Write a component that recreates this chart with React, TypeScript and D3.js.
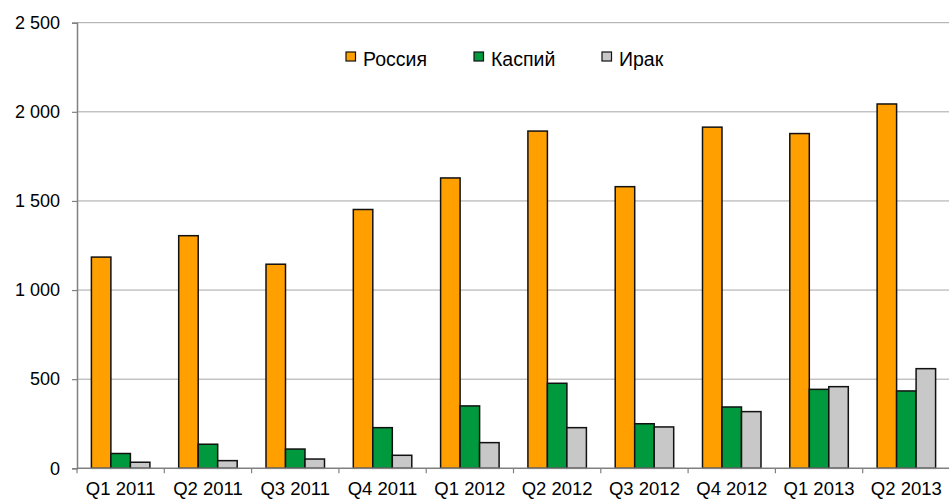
import React, { useEffect, useRef } from "react";
import * as d3 from "d3";

const quarters = ["Q1 2011", "Q2 2011", "Q3 2011", "Q4 2011", "Q1 2012", "Q2 2012", "Q3 2012", "Q4 2012", "Q1 2013", "Q2 2013"];
const seriesNames = ["Россия", "Каспий", "Ирак"];
const russia = [1185, 1305, 1145, 1452, 1629, 1892, 1580, 1914, 1878, 2044];
const caspian = [83, 135, 108, 228, 350, 477, 250, 344, 443, 434];
const iraq = [34, 43, 52, 73, 144, 228, 232, 318, 458, 559];
const yTicks = [0, 500, 1000, 1500, 2000, 2500];
const colors = ["#FFA000", "#00993D", "#C8C8C8"];

const App = () => {
    const svgRef = useRef<SVGSVGElement>(null);

    useEffect(() => {
        const width = 949;
        const height = 500;
        const margin = { top: 22.7, right: -1, bottom: 31.7, left: 77 };

        const svg = d3.select(svgRef.current).attr("width", width).attr("height", height);
        svg.selectAll("*").remove();

        const values = [russia, caspian, iraq];
        const rows = quarters.map((q, i) => ({ q, vals: values.map((s) => s[i]) }));

        const x0 = d3
            .scaleBand()
            .domain(quarters)
            .range([margin.left, width - margin.right])
            .paddingInner(0.33)
            .paddingOuter(0.165);
        const x1 = d3.scaleBand().domain(seriesNames).range([0, x0.bandwidth()]);
        const y = d3
            .scaleLinear()
            .domain([0, 2500])
            .range([height - margin.bottom, margin.top]);

        const fmt = (v: number) => d3.format(",")(v).replace(/,/g, " ");
        const font = "'Liberation Sans', Arial, sans-serif";

        // gridlines
        svg.append("g")
            .selectAll("line")
            .data(yTicks.filter((t) => t > 0))
            .enter()
            .append("line")
            .attr("x1", margin.left)
            .attr("x2", width)
            .attr("y1", (d) => y(d))
            .attr("y2", (d) => y(d))
            .attr("stroke", "#a6a6a6")
            .attr("stroke-width", 1);

        // y axis
        const yAxis = svg
            .append("g")
            .attr("transform", `translate(${margin.left},0)`)
            .call(d3.axisLeft(y).tickValues(yTicks).tickSize(5).tickPadding(12).tickFormat((d) => fmt(d as number)));
        yAxis.select(".domain").attr("stroke", "#808080").attr("stroke-width", 1.5);
        yAxis.selectAll(".tick line").attr("stroke", "#808080").attr("stroke-width", 1.2);
        yAxis.selectAll("text").attr("font-family", font).attr("font-size", 18).attr("fill", "#000");

        // bars
        const groups = svg
            .append("g")
            .selectAll(".grp")
            .data(rows)
            .enter()
            .append("g")
            .attr("transform", (d) => `translate(${x0(d.q)},0)`);

        groups
            .selectAll("rect")
            .data((d) => d.vals.map((v, i) => ({ key: seriesNames[i], v, i })))
            .enter()
            .append("rect")
            .attr("x", (d) => x1(d.key)!)
            .attr("y", (d) => y(d.v))
            .attr("width", x1.bandwidth())
            .attr("height", (d) => y(0) - y(d.v))
            .attr("fill", (d) => colors[d.i])
            .attr("stroke", "#111")
            .attr("stroke-width", 1.5);

        // x axis
        const step = x0.step();
        const xAxisG = svg.append("g").attr("transform", `translate(0,${y(0)})`);
        xAxisG
            .append("line")
            .attr("x1", margin.left)
            .attr("x2", width)
            .attr("stroke", "#808080")
            .attr("stroke-width", 1.5);
        xAxisG
            .selectAll(".xt")
            .data(d3.range(quarters.length + 1))
            .enter()
            .append("line")
            .attr("x1", (i) => margin.left + i * step)
            .attr("x2", (i) => margin.left + i * step)
            .attr("y1", 0)
            .attr("y2", 5)
            .attr("stroke", "#808080")
            .attr("stroke-width", 1.2);
        xAxisG
            .selectAll("text")
            .data(quarters)
            .enter()
            .append("text")
            .attr("x", (q) => x0(q)! + x0.bandwidth() / 2)
            .attr("y", 26.5)
            .attr("text-anchor", "middle")
            .attr("font-family", font)
            .attr("font-size", 18.5)
            .text((q) => q);

        // legend
        const legendX = [346, 474, 602];
        const legend = svg.append("g").attr("transform", "translate(0,56.5)");
        seriesNames.forEach((name, i) => {
            legend
                .append("rect")
                .attr("x", legendX[i])
                .attr("y", -4.5)
                .attr("width", 9.5)
                .attr("height", 9)
                .attr("fill", colors[i])
                .attr("stroke", "#111")
                .attr("stroke-width", 1.2);
            legend
                .append("text")
                .attr("x", legendX[i] + 17)
                .attr("y", 9.5)
                .attr("font-family", font)
                .attr("font-size", 19.5)
                .text(name);
        });
    }, []);

    return (
        <div style={{ position: "absolute", left: 0, top: 0 }}>
            <svg ref={svgRef}></svg>
        </div>
    );
};

export default App;
